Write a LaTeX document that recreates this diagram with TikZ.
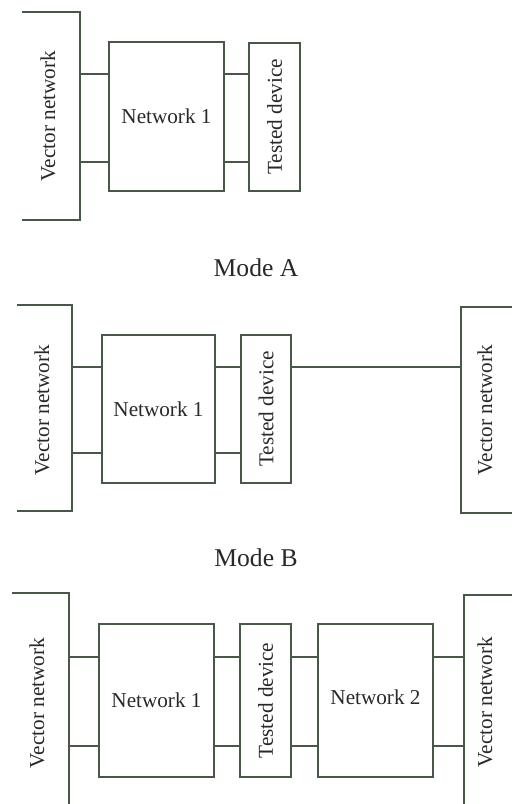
\documentclass[tikz,border=0pt]{standalone}
\usepackage{fontspec}
\setmainfont{Liberation Serif}
\usetikzlibrary{positioning}
\definecolor{wire}{RGB}{72,88,72}
\definecolor{ink}{RGB}{40,40,40}
\tikzset{
  box/.style={draw=wire, line width=0.65pt, minimum width=#1, inner sep=0pt},
  txt/.style={text=ink, font=\fontsize{10.6}{12}\selectfont},
  vtxt/.style={txt, rotate=90},
  wire/.style={draw=wire, line width=0.65pt},
  modelabel/.style={text=ink, font=\fontsize{12.8}{15}\selectfont}
}
\begin{document}
\begin{tikzpicture}[x=0.5pt, y=-0.5pt]
  \useasboundingbox (0,0) rectangle (512,804);

  % Mode A (upper)
  \draw[wire] (22,12) -- (80,12) -- (80,220) -- (22,220);
  \node[vtxt] (vnA) at (48,116) {Vector network};
  \node[box=57.5pt, minimum height=74.5pt] (netA) at (166.5,116.5) {};
  \node[txt] at (netA) {Network 1};
  \node[box=25.5pt, minimum height=74pt] (dutA) at (274.5,117) {};
  \node[vtxt] at (dutA) {Tested device};
  \coordinate (pA1) at (80,74);
  \coordinate (pA2) at (80,162);
  \draw[wire] (pA1) -- (pA1 -| netA.west);
  \draw[wire] (pA2) -- (pA2 -| netA.west);
  \draw[wire] (pA1 -| netA.east) -- (pA1 -| dutA.west);
  \draw[wire] (pA2 -| netA.east) -- (pA2 -| dutA.west);

  \node[modelabel] (modeA) at (256,268) {Mode A};

  % Mode B (middle)
  \draw[wire] (17,305) -- (72,305) -- (72,511) -- (17,511);
  \node[vtxt] (vnB1) at (42,410) {Vector network};
  \draw[wire] (512,307) -- (461,307) -- (461,513) -- (512,513);
  \node[vtxt] (vnB2) at (485,410) {Vector network};
  \node[box=56.5pt, minimum height=74pt] (netB) at (158.5,409) {};
  \node[txt] at (netB) {Network 1};
  \node[box=25pt, minimum height=74pt] (dutB) at (266,409) {};
  \node[vtxt] at (dutB) {Tested device};
  \coordinate (pB1) at (72,367);
  \coordinate (pB2) at (72,453);
  \coordinate (qB1) at (461,367);
  \draw[wire] (pB1) -- (pB1 -| netB.west);
  \draw[wire] (pB2) -- (pB2 -| netB.west);
  \draw[wire] (pB1 -| netB.east) -- (pB1 -| dutB.west);
  \draw[wire] (pB2 -| netB.east) -- (pB2 -| dutB.west);
  \draw[wire] (qB1 -| dutB.east) -- (qB1);

  \node[modelabel] (modeB) at (256,558) {Mode B};

  % lower
  \draw[wire] (12,593) -- (69,593) -- (69,804);
  \node[vtxt] (vnC1) at (37,703) {Vector network};
  \draw[wire] (512,595) -- (464,595) -- (464,804);
  \node[vtxt] (vnC2) at (485,702) {Vector network};
  \node[box=57.5pt, minimum height=76.5pt] (netC1) at (156.5,700.5) {};
  \node[txt] at (netC1) {Network 1};
  \node[box=25.5pt, minimum height=76.5pt] (dutC) at (265.5,700.5) {};
  \node[vtxt] at (dutC) {Tested device};
  \node[box=57.5pt, minimum height=76.5pt] (netC2) at (375.5,700.5) {};
  \node[txt] at ([yshift=1.5pt]netC2) {Network 2};
  \coordinate (pC1) at (69,657);
  \coordinate (pC2) at (69,746);
  \coordinate (qC1) at (464,657);
  \coordinate (qC2) at (464,746);
  \draw[wire] (pC1) -- (pC1 -| netC1.west);
  \draw[wire] (pC2) -- (pC2 -| netC1.west);
  \draw[wire] (pC1 -| netC1.east) -- (pC1 -| dutC.west);
  \draw[wire] (pC2 -| netC1.east) -- (pC2 -| dutC.west);
  \draw[wire] (pC1 -| dutC.east) -- (pC1 -| netC2.west);
  \draw[wire] (pC2 -| dutC.east) -- (pC2 -| netC2.west);
  \draw[wire] (qC1 -| netC2.east) -- (qC1);
  \draw[wire] (qC2 -| netC2.east) -- (qC2);
\end{tikzpicture}
\end{document}
